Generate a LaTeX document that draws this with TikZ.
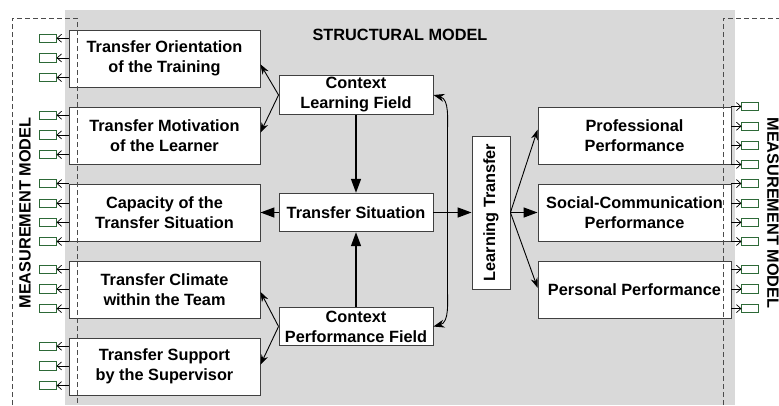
\documentclass[tikz,border=0pt]{standalone}
\usepackage{fontspec}
\setmainfont{Liberation Sans}
\usepackage{tikz}
\usetikzlibrary{arrows.meta,calc}

\definecolor{bggray}{RGB}{217,217,217}
\definecolor{indgreen}{RGB}{45,105,55}
\definecolor{boxline}{RGB}{64,64,64}

\newcommand{\boxfont}{\fontsize{16.3}{20}\selectfont\bfseries}
\newcommand{\indW}[2]{%
  \foreach \f [count=\k] in {#2} {
    \coordinate (#1-p\k) at ($(#1.north west)!\f!(#1.south west)$);
    \node[ind,anchor=east] (#1-i\k) at ([xshift=-12pt]#1-p\k) {};
    \draw[indarr] (#1-p\k) -- (#1-i\k.east);
  }}
\newcommand{\indE}[2]{%
  \foreach \f [count=\k] in {#2} {
    \coordinate (#1-q\k) at ($(#1.north east)!\f!(#1.south east)$);
    \node[ind,anchor=west] (#1-j\k) at ([xshift=10pt]#1-q\k) {};
    \draw[indarr] (#1-q\k) -- (#1-j\k.west);
  }}

\begin{document}
\begin{tikzpicture}[x=1pt,y=-1pt,
  box/.style={draw=boxline,fill=white,line width=0.9pt,minimum width=191pt,minimum height=57pt,inner sep=0pt,align=center,font=\boxfont},
  midbox/.style={box,minimum width=154pt,minimum height=38.5pt},
  ind/.style={draw=indgreen,fill=white,line width=0.8pt,minimum width=17pt,minimum height=8.5pt,inner sep=0pt},
  indarr/.style={-{Straight Barb[length=4.5pt,width=8pt]},line width=0.7pt},
  thinarr/.style={-{Stealth[length=10pt,width=7pt]},line width=0.9pt},
  bigarr/.style={-{Triangle[length=14pt,width=10pt]},line width=1.4pt},
  frame/.style={draw=black!70,line width=0.9pt,dash pattern=on 5pt off 3pt},
  model/.style={font=\boxfont,inner sep=0pt}]
  \useasboundingbox (0,0) rectangle (779,405);
  \fill[bggray] (65,10) rectangle (735,405);
  \node[model] (title) at (400,35) {STRUCTURAL MODEL};

  \node[box] (orient) at (164.5,58.5) {Transfer Orientation\\of the Training};
  \node[box] (motiv) at (164.5,135.5) {Transfer Motivation\\of the Learner};
  \node[box] (capac) at (164.5,212.5) {Capacity of the\\Transfer Situation};
  \node[box] (climate) at (164.5,289.5) {Transfer Climate\\within the Team};
  \node[box] (support) at (164.5,366.5) {Transfer Support\\by the Supervisor};

  \node[midbox] (clf) at (356,95) {Context\\Learning Field};
  \node[midbox] (sit) at (356,212.5) {Transfer Situation};
  \node[midbox] (cpf) at (356,326.5) {Context\\Performance Field};
  \node[box,minimum width=38pt,minimum height=153pt] (lt) at (491,212.5) {\rotatebox{90}{Learning Transfer}};

  \node[box,minimum width=193pt] (prof) at (634.5,135.5) {Professional\\Performance};
  \node[box,minimum width=193pt] (social) at (634.5,212.5) {Social-Communication\\Performance};
  \node[box,minimum width=193pt] (personal) at (634.5,289.5) {Personal Performance};

  \draw[thinarr] (clf.west) -- ($(orient.north east)!0.6!(orient.south east)$);
  \draw[thinarr] (clf.west) -- ($(motiv.north east)!0.45!(motiv.south east)$);
  \draw[thinarr] (cpf.west) -- ($(climate.north east)!0.54!(climate.south east)$);
  \draw[thinarr] (cpf.west) -- ($(support.north east)!0.47!(support.south east)$);
  \draw[bigarr] (clf) -- (sit);
  \draw[bigarr] (cpf) -- (sit);
  \draw[bigarr] (sit) -- (capac);
  \draw[bigarr] (sit) -- (lt);
  \draw[{Stealth[length=11pt,width=8pt]}-{Stealth[length=11pt,width=8pt]},line width=0.9pt]
    (clf.east) to[out=-15,in=90] ([xshift=14pt,yshift=-40pt]clf.east)
    -- ([xshift=14pt,yshift=40pt]cpf.east) to[out=-90,in=15] (cpf.east);
  \draw[thinarr] (lt.east) -- ($(prof.north west)!0.4!(prof.south west)$);
  \draw[bigarr] (lt) -- (social);
  \draw[thinarr] (lt.east) -- ($(personal.north west)!0.47!(personal.south west)$);

  \indW{orient}{0.15,0.49,0.83}
  \indW{motiv}{0.15,0.49,0.83}
  \indW{capac}{0,0.34,0.67,1}
  \indW{climate}{0.15,0.49,0.83}
  \indW{support}{0.15,0.49,0.83}
  \indE{prof}{0,0.34,0.67,1}
  \indE{social}{0,0.34,0.67,1}
  \indE{personal}{0.15,0.49,0.83}

  \draw[frame] (12,405) -- (12,18) -- (77,18) -- (77,405);
  \draw[frame] (723,405) -- (723,18) -- (779,18);
  \node[model,rotate=90] (mleft) at (25,213) {MEASUREMENT MODEL};
  \node[model,rotate=-90] (mright) at (773,213) {MEASUREMENT MODEL};
\end{tikzpicture}
\end{document}
